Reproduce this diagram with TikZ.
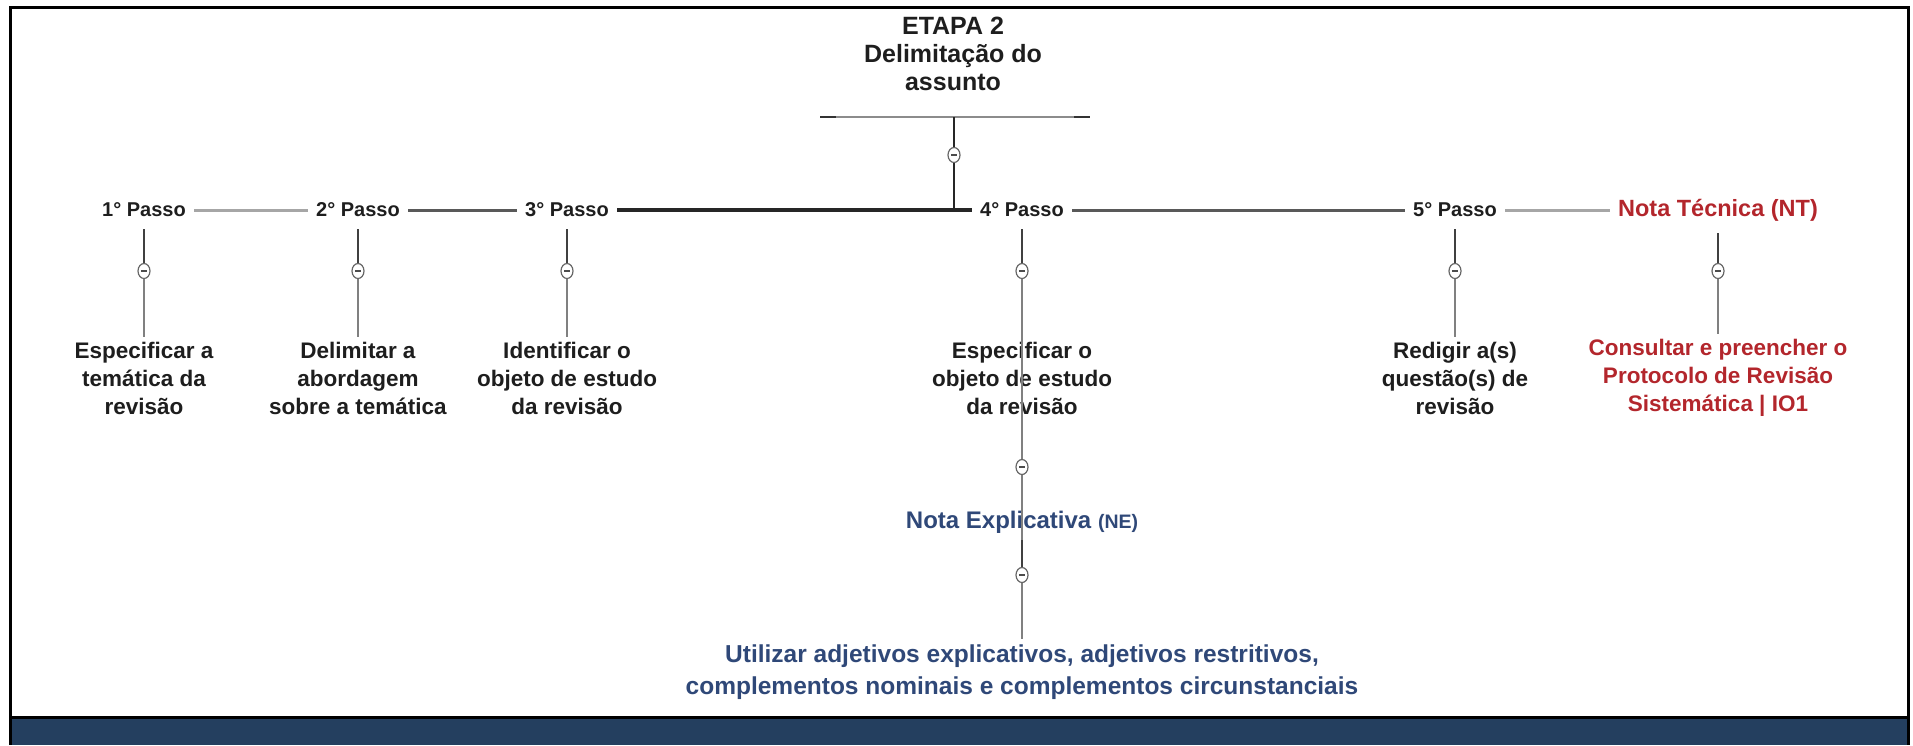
\documentclass[tikz,border=0pt]{standalone}
\usepackage{fontspec}
\setmainfont{Liberation Sans}
\usetikzlibrary{shapes.geometric}
\definecolor{bandcol}{HTML}{243F5F}
\definecolor{ntred}{HTML}{B3262C}
\definecolor{neblue}{HTML}{2F4878}
\definecolor{txt}{HTML}{1E1E1E}
\begin{document}
\begin{tikzpicture}[x=1pt,y=-1pt,
  titlebox/.style={font=\fontsize{25}{28}\selectfont\bfseries, text=txt, align=center, inner sep=0pt},
  passo/.style={font=\fontsize{20}{24}\selectfont\bfseries, text=txt, inner sep=8pt},
  body/.style={font=\fontsize{22.5}{28}\selectfont\bfseries, text=txt, align=center, inner sep=5pt},
  tog/.style={ellipse, draw=black!60, fill=white, line width=1.2pt, minimum width=12pt, minimum height=15pt, inner sep=0pt,
    path picture={\draw[line width=1.4pt, black!70] ([xshift=-3pt]path picture bounding box.center) -- ([xshift=3pt]path picture bounding box.center);}},
  upper/.style={line width=1.6pt, black!75, shorten <=4pt},
  lower/.style={line width=1.2pt, black!50},
  hlight/.style={line width=3pt, black!35},
  hmid/.style={line width=3pt, black!65},
  hdark/.style={line width=3.5pt, black!85},
]
\useasboundingbox (0,0) rectangle (1913,745);
% frame and band
\fill[bandcol] (10.5,718.5) rectangle (1908,745);
\draw[line width=3pt] (10.5,745) -- (10.5,7) -- (1908,7) -- (1908,745);
\draw[line width=3pt] (10.5,717) -- (1908,717);

% title
\node[titlebox] (title) at (953,54) {ETAPA 2\\Delimitação do\\assunto};
\coordinate (tl) at (820,117);
\coordinate (tla) at (836,117);
\coordinate (tr) at (1090,117);
\coordinate (tra) at (1074,117);
\coordinate (tm) at (954,117);
\coordinate (ct) at (954,155);
\coordinate (j) at (954,210);
\draw[line width=2pt, black!45] (tl) -- (tr);
\draw[line width=2pt, black!80] (tl) -- (tla);
\draw[line width=2pt, black!80] (tra) -- (tr);
\draw[line width=2.5pt, black!85] (tm) -- (j);

% passo labels
\node[passo] (p1) at (144,210) {1° Passo};
\node[passo] (p2) at (358,210) {2° Passo};
\node[passo] (p3) at (567,210) {3° Passo};
\node[passo] (p4) at (1022,210) {4° Passo};
\node[passo] (p5) at (1455,210) {5° Passo};
\node[passo, font=\fontsize{23.5}{26}\selectfont\bfseries, text=ntred] (nt) at (1718,210) {Nota Técnica (NT)};

\draw[hlight] (p1) -- (p2);
\draw[hmid] (p2) -- (p3);
\draw[hdark] (p3) -- (p4);
\draw[hmid] (p4) -- (p5);
\draw[hlight] (p5) -- (nt);

% body texts
\node[body] (t1) at (144,378) {Especificar a\\temática da\\revisão};
\node[body] (t2) at (358,378) {Delimitar a\\abordagem\\sobre a temática};
\node[body] (t3) at (567,378) {Identificar o\\objeto de estudo\\da revisão};
\node[body] (t4) at (1022,378) {Especificar o\\objeto de estudo\\da revisão};
\node[body] (t5) at (1455,378) {Redigir a(s)\\questão(s) de\\revisão};
\node[body, text=ntred] (t6) at (1718,378) {Consultar e preencher o\\Protocolo de Revisão\\Sistemática | IO1};

\node[font=\fontsize{24}{28}\selectfont\bfseries, text=neblue, inner sep=3pt] (ne) at (1022,522) {Nota Explicativa {\fontsize{19.5}{22}\selectfont(NE)}};
\node[body, font=\fontsize{24.5}{32}\selectfont\bfseries, text=neblue] (ut) at (1022,672) {Utilizar adjetivos explicativos, adjetivos restritivos,\\complementos nominais e complementos circunstanciais};

% toggles coordinates
\coordinate (c1) at (144,271);
\coordinate (c2) at (358,271);
\coordinate (c3) at (567,271);
\coordinate (c4a) at (1022,271);
\coordinate (c4b) at (1022,467);
\coordinate (c4c) at (1022,575);
\coordinate (c5) at (1455,271);
\coordinate (c6) at (1718,271);

\draw[upper] (p1) -- (c1);
\draw[lower] (c1) -- (t1);
\draw[upper] (p2) -- (c2);
\draw[lower] (c2) -- (t2);
\draw[upper] (p3) -- (c3);
\draw[lower] (c3) -- (t3);
\draw[upper] (p5) -- (c5);
\draw[lower] (c5) -- (t5);
\draw[upper] (nt) -- (c6);
\draw[lower] (c6) -- (t6);
\draw[upper] (p4) -- (c4a);
\draw[lower] (c4a) -- (c4b);
\draw[lower] (c4b) -- (c4c);
\draw[upper] (ne.south) -- (c4c);
\draw[lower] (c4c) -- (ut);

% toggle circles
\foreach \c in {ct,c1,c2,c3,c4a,c4b,c4c,c5,c6}
  \node[tog] at (\c) {};
\end{tikzpicture}
\end{document}
